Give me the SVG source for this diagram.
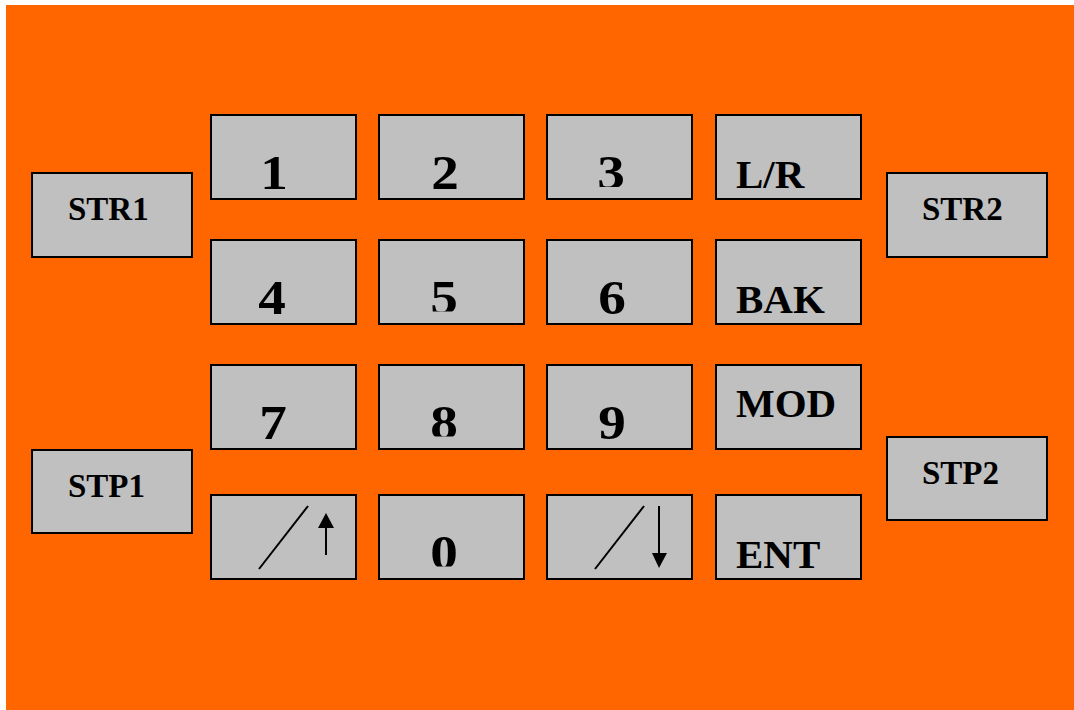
<svg xmlns="http://www.w3.org/2000/svg" width="1074" height="710" viewBox="0 0 1074 710">
  <style>
    .key { fill: #C0C0C0; stroke: #000; stroke-width: 2; }
    .dig { font-family: "Liberation Serif", "Times New Roman", serif; font-weight: bold; font-size: 48px; text-anchor: middle; fill: #000; }
    .lbl { font-family: "Liberation Serif", "Times New Roman", serif; font-weight: bold; font-size: 41px; fill: #000; }
    .side { font-family: "Liberation Serif", "Times New Roman", serif; font-weight: bold; font-size: 33px; fill: #000; }
    .ln { stroke: #000; stroke-width: 2; fill: none; }
  </style>
  <defs>
    <clipPath id="c3"><rect x="547" y="115" width="145" height="72"/></clipPath>
    <clipPath id="c5"><rect x="379" y="240" width="145" height="71.5"/></clipPath>
    <clipPath id="c8"><rect x="379" y="365" width="145" height="71.5"/></clipPath>
    <clipPath id="c0"><rect x="379" y="495" width="145" height="71.5"/></clipPath>
  </defs>
  <rect x="0" y="0" width="1074" height="710" fill="#FFFFFF"/>
  <rect id="panel" x="6" y="5" width="1068" height="705" fill="#FF6600"/>

  <g id="key-str1"><rect class="key" x="32" y="173" width="160" height="84"/><text class="side" x="68" y="220">STR1</text></g>
  <g id="key-str2"><rect class="key" x="887" y="173" width="160" height="84"/><text class="side" x="922" y="220">STR2</text></g>
  <g id="key-stp1"><rect class="key" x="32" y="450" width="160" height="83"/><text class="side" x="68" y="497">STP1</text></g>
  <g id="key-stp2"><rect class="key" x="887" y="437" width="160" height="83"/><text class="side" x="922" y="484">STP2</text></g>

  <g id="key-1"><rect class="key" x="211" y="115" width="145" height="84"/><text class="dig" transform="translate(274,189) scale(1.15,1)">1</text></g>
  <g id="key-2"><rect class="key" x="379" y="115" width="145" height="84"/><text class="dig" transform="translate(445,189) scale(1.15,1)">2</text></g>
  <g id="key-3"><rect class="key" x="547" y="115" width="145" height="84"/><g clip-path="url(#c3)"><text class="dig" transform="translate(611,189) scale(1.15,1)">3</text></g></g>
  <g id="key-lr"><rect class="key" x="716" y="115" width="145" height="84"/><text class="lbl" x="736" y="188">L/R</text></g>

  <g id="key-4"><rect class="key" x="211" y="240" width="145" height="84"/><text class="dig" transform="translate(272,314) scale(1.15,1)">4</text></g>
  <g id="key-5"><rect class="key" x="379" y="240" width="145" height="84"/><g clip-path="url(#c5)"><text class="dig" transform="translate(444,314) scale(1.15,1)">5</text></g></g>
  <g id="key-6"><rect class="key" x="547" y="240" width="145" height="84"/><text class="dig" transform="translate(612,314) scale(1.15,1)">6</text></g>
  <g id="key-bak"><rect class="key" x="716" y="240" width="145" height="84"/><text class="lbl" x="736" y="313">BAK</text></g>

  <g id="key-7"><rect class="key" x="211" y="365" width="145" height="84"/><text class="dig" transform="translate(273,439) scale(1.15,1)">7</text></g>
  <g id="key-8"><rect class="key" x="379" y="365" width="145" height="84"/><g clip-path="url(#c8)"><text class="dig" transform="translate(444,439) scale(1.15,1)">8</text></g></g>
  <g id="key-9"><rect class="key" x="547" y="365" width="145" height="84"/><text class="dig" transform="translate(612,439) scale(1.15,1)">9</text></g>
  <g id="key-mod"><rect class="key" x="716" y="365" width="145" height="84"/><text class="lbl" x="736" y="417">MOD</text></g>

  <g id="key-up"><rect class="key" x="211" y="495" width="145" height="84"/>
    <line class="ln" x1="259" y1="569" x2="308" y2="506"/>
    <line class="ln" x1="326" y1="555" x2="326" y2="525"/>
    <polygon points="326,513 318,528 334,528" fill="#000"/>
  </g>
  <g id="key-0"><rect class="key" x="379" y="495" width="145" height="84"/><g clip-path="url(#c0)"><text class="dig" transform="translate(444,569) scale(1.15,1)">0</text></g></g>
  <g id="key-down"><rect class="key" x="547" y="495" width="145" height="84"/>
    <line class="ln" x1="595" y1="569" x2="644" y2="506"/>
    <line class="ln" x1="659" y1="506" x2="659" y2="556"/>
    <polygon points="659,568 652,553 667,553" fill="#000"/>
  </g>
  <g id="key-ent"><rect class="key" x="716" y="495" width="145" height="84"/><text class="lbl" x="736" y="568">ENT</text></g>

  <g id="connectors"></g>
</svg>
